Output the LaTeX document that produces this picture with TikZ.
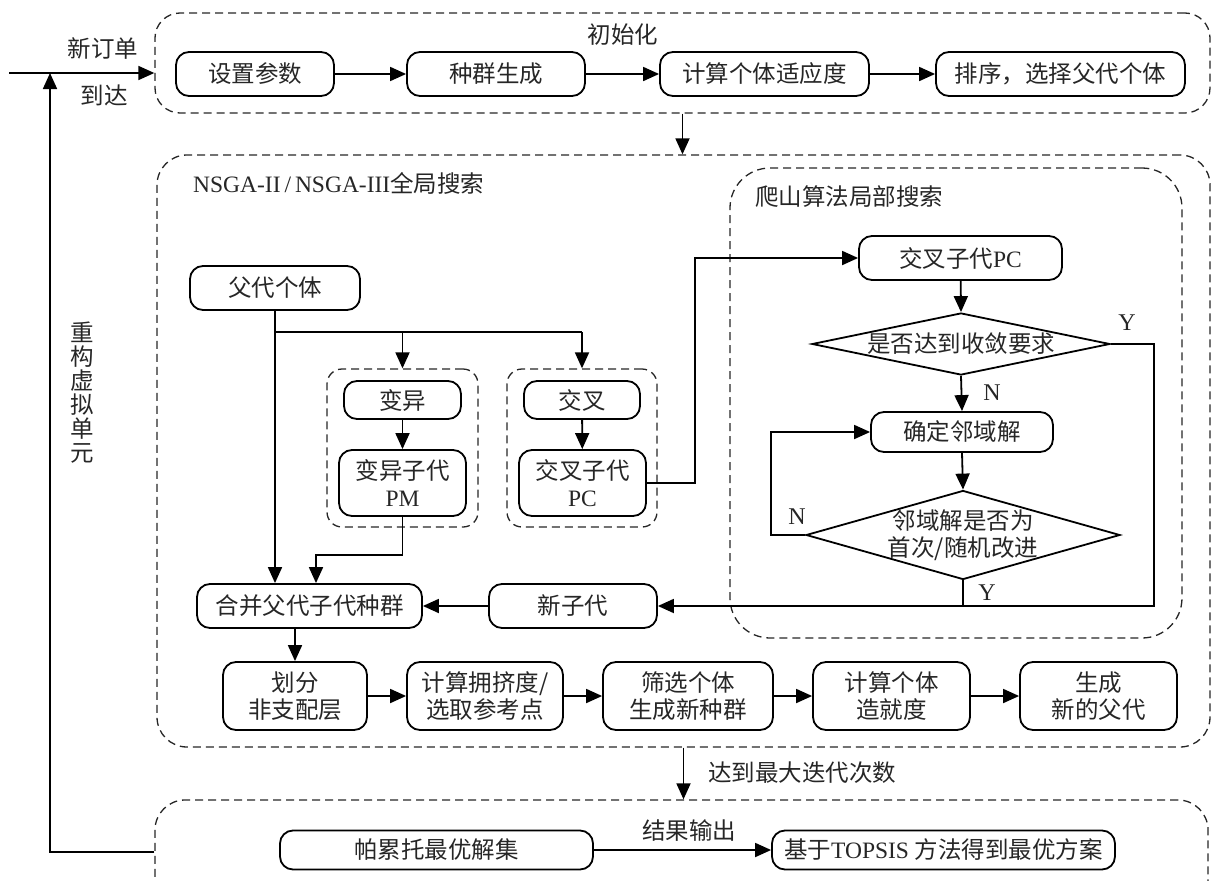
\documentclass[tikz,border=0pt]{standalone}
\usepackage{fontspec}
\setmainfont{Liberation Serif}
\newfontfamily\cjk{Noto Sans CJK SC}
\newfontfamily\latf{Liberation Serif}
\usetikzlibrary{arrows.meta,shapes.geometric}
\begin{document}
\begin{tikzpicture}[x=1pt,y=-1pt,
  every node/.style={font=\cjk\fontsize{23.5}{27}\selectfont, inner sep=0pt, text=black!85},
  box/.style={draw=black, line width=1.8pt, rounded corners=13pt, align=center},
  bx/.style 2 args={box, minimum width=#1pt, minimum height=#2pt},
  grp/.style={draw=black!85, dash pattern=on 8pt off 5pt, line width=1.3pt},
  arr/.style={line width=1.8pt, -{Triangle[length=16pt,width=14pt]}},
  ln/.style={line width=1.8pt},
  dia/.style={draw=black, shape=diamond, line width=1.8pt, inner sep=0pt},
  lbl/.style={font=\latf\fontsize{24}{27}\selectfont}
]
\useasboundingbox (0,0) rectangle (1211,881);
\clip (0,0) rectangle (1211,881);

% ---------- initialisation group ----------
\node[grp, rounded corners=25pt, minimum width=1055pt, minimum height=100pt] (g1) at (682.5,63) {};
\node (t1) at (623,35) {初始化};
\node[bx={158}{44}] (n1) at (255,74) {设置参数};
\node[bx={178}{44}] (n2) at (496,74) {种群生成};
\node[bx={209}{44}] (n3) at (764.5,74) {计算个体适应度};
\node[bx={249}{44}] (n4) at (1060.5,74) {排序，选择父代个体};
\draw[arr] (n1) -- (n2);
\draw[arr] (n2) -- (n3);
\draw[arr] (n3) -- (n4);

% input and feedback
\coordinate (in0) at (9,73);
\draw[arr] (in0) -- (in0 -| g1.west);
\node (tin1) at (103,49) {新订单};
\node (tin2) at (104,95) {到达};

% ---------- global search group ----------
\node[grp, rounded corners=30pt, minimum width=1053pt, minimum height=592pt] (g2) at (683.5,451) {};
\draw[arr] (g1.south) -- (g1.south |- g2.north);
\node[anchor=west] (t2) at (193,183) {{\latf NSGA-II\,/\,NSGA-III}全局搜索};

\node[grp, rounded corners=40pt, minimum width=452pt, minimum height=470pt] (g2b) at (956,403) {};
\node[anchor=west] (t3) at (755,197) {爬山算法局部搜索};

\node[grp, rounded corners=15pt, minimum width=151pt, minimum height=158pt] (gA) at (402.5,448) {};
\node[grp, rounded corners=15pt, minimum width=150pt, minimum height=158pt] (gB) at (582,448) {};

\node[bx={170}{44}] (p) at (275,288) {父代个体};
\node[bx={117}{38}] (m1) at (402.5,400) {变异};
\node[bx={116}{38}] (c1) at (582,400) {交叉};
\node[bx={127}{66}] (m2) at (402.5,483) {变异子代\\{\latf PM}};
\node[bx={127}{66}] (c2) at (582.5,483) {交叉子代\\{\latf PC}};

\node[bx={225}{44}] (h1) at (309.5,606) {合并父代子代种群};
\node[bx={168}{44}] (h2) at (573,606) {新子代};

\node[bx={144}{68}] (b1) at (295,696) {划分\\非支配层};
\node[bx={156}{68}] (b2) at (485,696) {计算拥挤度/\\选取参考点};
\node[bx={170}{68}] (b3) at (688,696) {筛选个体\\生成新种群};
\node[bx={157}{68}] (b4) at (891.5,696) {计算个体\\造就度};
\node[bx={157}{68}] (b5) at (1098.5,696) {生成\\新的父代};

\coordinate (br) at (275,332);
\draw[ln] (p.south) -- (br) -- (br -| gB.north);
\draw[arr] (br -| gA.north) -- (gA.north);
\draw[arr] (br -| gB.north) -- (gB.north);
\draw[arr] (p.south) -- (p.south |- h1.north);
\draw[arr] (m1) -- (m2);
\draw[arr] (c1) -- (c2);
\coordinate (pmk) at (316,555);
\draw[arr] (m2.south) -- (m2.south |- pmk) -- (pmk) -- (pmk |- h1.north);
\draw[arr] (h2) -- (h1);
\draw[arr] (b1.north |- h1.south) -- (b1.north);
\draw[arr] (b1) -- (b2);
\draw[arr] (b2) -- (b3);
\draw[arr] (b3) -- (b4);
\draw[arr] (b4) -- (b5);

% ---------- hill climbing ----------
\node[bx={203}{44}] (pc3) at (960.5,258) {交叉子代{\latf PC}};
\node[dia, minimum width=298pt, minimum height=62pt] (d1) at (961,344) {};
\node (d1t) at (961,344) {是否达到收敛要求};
\node[bx={182}{40}] (q) at (962,432) {确定邻域解};
\node[dia, minimum width=314pt, minimum height=89pt] (d2) at (963,535) {};
\node[align=center] (d2t) at (963,535) {邻域解是否为\\首次/随机改进};

\coordinate (pcx) at (695,483);
\draw[arr] (c2.east) -- (pcx) -- (pcx |- pc3.west) -- (pc3.west);
\draw[arr] (pc3) -- (d1.north);
\draw[arr] (d1.south) -- (q.north);
\draw[arr] (q.south) -- (d2.north);
\coordinate (yx) at (1154,344);
\draw[arr] (d1.east) -- (yx) |- (h2.east);
\draw[ln] (d2.south) -- (d2.south |- h2.east);
\coordinate (nx) at (771,535);
\draw[arr] (d2.west) -- (nx) |- (q.west);
\node[lbl] (ly1) at (1127,323) {Y};
\node[lbl] (ln1) at (992,393) {N};
\node[lbl] (ln2) at (797,517) {N};
\node[lbl] (ly2) at (987,593) {Y};

% ---------- output group ----------
\node[grp, rounded corners=30pt, minimum width=1053pt, minimum height=130pt] (g3) at (681.5,865) {};
\draw[arr] (g2.south) -- (g2.south |- g3.north);
\node[anchor=west] (t4) at (708,773) {达到最大迭代次数};
\node (t5) at (689,831) {结果输出};
\node[bx={313}{39}] (r1) at (436.5,850) {帕累托最优解集};
\node[bx={343}{39}] (r2) at (943.5,850) {基于{\latf TOPSIS }方法得到最优方案};
\draw[arr] (r1) -- (r2);

\coordinate (fb) at (50,852);
\draw[arr] (fb -| g3.west) -- (fb) -- (fb |- in0);
\node[align=center, font=\cjk\fontsize{23.5}{24}\selectfont] (tfb) at (82,393) {重\\构\\虚\\拟\\单\\元};
\end{tikzpicture}
\end{document}
